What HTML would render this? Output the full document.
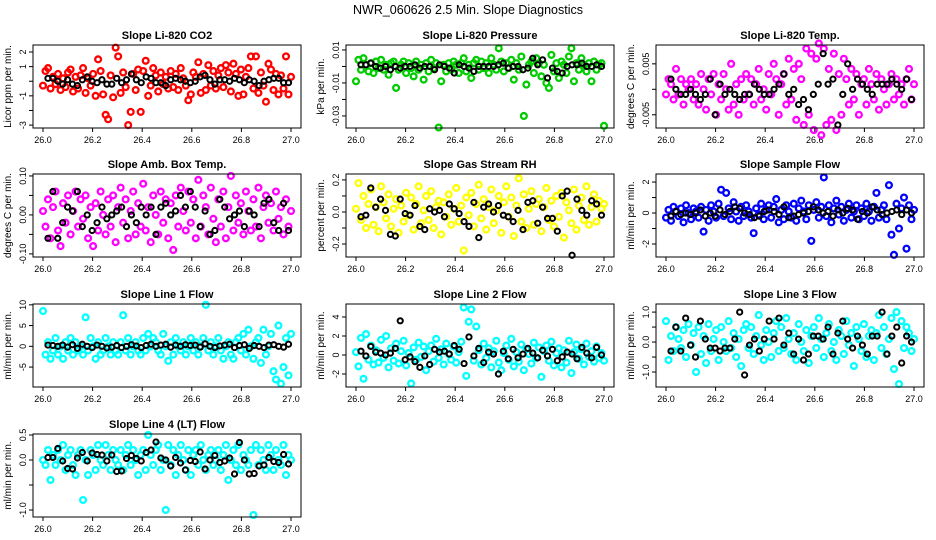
<!DOCTYPE html>
<html><head><meta charset="utf-8"><style>
html,body{margin:0;padding:0;background:#fff;}
svg{display:block;font-family:"Liberation Sans",Arial,sans-serif;}
</style></head><body>
<svg id="chart" width="936" height="540" viewBox="0 0 936 540" xmlns="http://www.w3.org/2000/svg">
<rect width="936" height="540" fill="#fff"/>
<text x="468" y="14" text-anchor="middle" font-size="12.5">NWR_060626  2.5 Min. Slope Diagnostics</text>
</svg>
<script>
const xTicks=[26.0,26.2,26.4,26.6,26.8,27.0];
const titles=["Slope Li-820 CO2","Slope Li-820 Pressure","Slope Li-820 Temp.","Slope Amb. Box Temp.","Slope Gas Stream RH","Slope Sample Flow","Slope Line 1 Flow","Slope Line 2 Flow","Slope Line 3 Flow","Slope Line 4 (LT) Flow"];
const yTitles=["Licor ppm per min.","kPa per min.","degrees C per min.","degrees C per min.","percent per min.","ml/min per min.","ml/min per min.","ml/min per min.","ml/min per min.","ml/min per min."];
const colors=["#ff0000","#00cc00","#ff00ff","#ff00ff","#ffff00","#0000ff","#00ffff","#00ffff","#00ffff","#00ffff"];
const yLims=[[2.48,-3.2],[0.013,-0.0373],[0.0087,-0.0076],[0.105,-0.108],[0.237,-0.281],[2.52,-2.84],[10.2,-9.8],[5.37,-3.37],[1.27,-1.5],[0.52,-1.14]];
const yTickVals=[[2,1,0,-1,-2,-3],[0.01,0,-0.01,-0.02,-0.03],[0.005,0,-0.005],[0.1,0.05,0,-0.05,-0.1],[0.2,0.1,0,-0.1,-0.2],[2,1,0,-1,-2],[10,5,0,-5],[4,2,0,-2],[1,0.5,0,-0.5,-1],[0.5,0,-0.5,-1]];
const yTickLabels=[["2","1","","-1","","-3"],["0.01","","-0.01","","-0.03"],["0.005","","-0.005"],["0.10","","0.00","","-0.10"],["0.2","","0.0","","-0.2"],["2","","0","","-2"],["10","5","0","-5"],["4","2","0","-2"],["1.0","","0.0","","-1.0"],["0.5","0.0","","-1.0"]];
const colored=[
[-0.3,0.7,0.9,-0.5,0.3,-0.2,0.5,-0.6,0.2,-0.4,0.6,0.8,-0.7,0.3,-0.5,0.4,0.9,-0.8,0.2,-0.3,0.5,-1.0,1.5,0.7,-0.9,-2.3,-2.6,0.4,-1.1,2.3,1.7,-0.8,0.6,-0.4,-3.0,-2.1,0.5,-0.6,0.8,-2.1,0.7,1.4,-1.0,-0.3,0.9,0.4,-0.7,0.6,-0.2,0.3,-0.5,0.7,-0.4,0.5,-0.6,0.9,0.2,-0.3,-1.3,-0.9,0.6,0.3,1.3,-0.8,0.5,-0.6,1.1,-0.3,0.7,-0.5,0.4,0.9,-0.4,1.1,0.6,-0.7,1.2,0.5,-1.0,0.8,-0.9,0.3,0.9,1.7,-0.5,1.7,-0.8,0.6,-0.3,-1.4,1.2,0.8,-0.6,0.5,-0.9,0.4,-0.5,1.7,-0.9,0.3],
[-0.009,0.004,-0.002,0.005,0.001,-0.003,0.002,-0.004,0.003,-0.001,0.004,-0.002,0.001,-0.005,0.002,0.003,-0.013,-0.002,0.001,0.003,-0.004,0.002,-0.001,-0.006,0.003,-0.002,0.001,-0.008,0.002,-0.003,0.004,-0.001,0.002,-0.037,-0.009,0.001,-0.003,0.002,-0.002,0.003,0.001,-0.004,0.002,0.005,-0.003,0.001,-0.007,0.002,0.004,-0.002,0.003,-0.001,0.002,-0.004,0.005,0.001,-0.002,0.011,0.003,-0.003,0.002,-0.001,0.004,-0.008,0.002,-0.002,0.006,-0.030,-0.011,0.001,0.003,-0.004,0.005,0.002,-0.006,0.001,-0.010,-0.013,0.007,-0.003,0.002,-0.007,0.003,0.001,-0.004,0.006,0.011,-0.009,0.002,-0.002,0.005,0.001,-0.003,0.002,-0.009,0.003,-0.002,0.001,0.002,-0.036],
[-0.001,0.002,0.001,-0.002,0.004,-0.001,0.002,-0.003,0.001,0.000,0.002,-0.002,0.001,-0.003,0.003,0.000,-0.004,0.002,-0.001,0.003,-0.005,0.001,-0.002,0.003,0.000,-0.004,0.005,-0.003,0.001,-0.005,0.002,-0.002,0.003,-0.001,0.002,-0.003,0.001,0.004,-0.002,0.000,-0.004,0.003,-0.001,0.005,0.002,-0.005,0.001,0.003,-0.003,0.006,-0.002,0.004,-0.006,0.005,0.002,-0.007,0.008,-0.005,0.007,-0.008,0.006,0.009,-0.009,0.008,-0.007,0.004,-0.006,0.007,-0.008,0.003,-0.005,0.006,0.002,-0.003,0.004,-0.002,0.003,-0.005,0.001,0.002,-0.003,0.004,0.001,-0.002,0.003,-0.004,0.002,0.000,-0.003,0.001,0.003,-0.002,0.002,-0.001,0.001,-0.003,0.002,0.004,-0.002,0.001],
[0.01,-0.03,0.04,-0.06,0.02,0.06,-0.04,-0.08,0.03,-0.02,0.05,-0.05,0.01,0.06,-0.03,0.04,-0.01,0.05,-0.06,0.02,-0.08,0.03,-0.04,0.06,0.00,-0.05,0.04,-0.03,0.05,-0.07,0.02,0.07,-0.02,0.04,-0.06,0.01,0.06,-0.05,0.03,-0.03,0.08,-0.04,0.02,-0.07,0.05,0.00,-0.05,0.06,-0.02,0.04,-0.06,0.03,-0.09,0.05,-0.03,0.07,0.01,-0.04,0.06,-0.02,0.04,-0.06,0.09,-0.03,0.05,0.02,-0.05,0.07,-0.01,-0.07,0.04,-0.03,0.06,-0.06,0.02,0.10,-0.04,0.05,-0.02,0.03,-0.05,0.06,0.01,-0.04,0.04,-0.03,0.07,-0.06,0.02,0.05,-0.02,0.03,-0.04,0.06,-0.01,0.02,-0.05,0.04,-0.03,0.01],
[0.02,0.18,-0.05,0.10,-0.10,0.05,0.14,-0.08,0.03,-0.12,0.16,0.06,-0.04,0.11,-0.09,0.02,0.08,-0.13,0.04,-0.06,0.12,-0.02,0.09,-0.11,0.05,0.16,-0.07,0.01,0.10,-0.05,0.13,-0.10,0.03,0.07,-0.14,0.06,-0.03,0.11,-0.08,0.02,0.15,-0.06,0.04,-0.24,0.09,-0.02,0.12,-0.09,0.05,0.17,-0.04,0.08,-0.11,0.03,0.14,-0.07,0.01,0.10,-0.13,0.06,0.16,-0.03,0.09,-0.15,0.04,0.21,-0.06,0.11,-0.10,0.02,0.13,-0.08,0.05,0.08,-0.12,0.03,0.15,-0.05,0.07,-0.09,0.10,-0.03,0.12,-0.16,0.06,0.01,-0.07,0.14,-0.11,0.04,0.09,-0.05,0.16,-0.08,0.03,0.11,-0.06,0.07,0.02,0.05],
[-0.3,0.2,-0.5,0.4,0.1,-0.2,0.3,-0.6,0.5,0.0,-0.4,0.3,0.1,-0.3,0.4,-1.2,0.2,-0.5,0.5,0.1,-0.3,0.6,1.5,-0.2,1.3,0.3,-0.4,0.7,0.1,-0.5,0.4,-0.2,0.5,0.1,-0.3,-1.3,0.3,-0.1,0.6,-0.4,0.2,0.5,-0.3,0.4,0.9,-0.6,0.2,-0.4,0.5,0.1,-0.3,0.6,-0.5,0.3,0.8,0.1,-0.4,0.5,-1.8,0.2,0.7,-0.3,0.4,2.3,-0.2,0.5,-0.6,0.3,0.8,-0.1,0.4,-0.5,0.2,0.6,-0.3,0.1,0.5,-0.4,0.3,-0.2,0.6,0.1,-0.5,0.4,1.3,-0.3,0.2,0.5,-0.4,1.8,-1.4,-2.7,0.6,-1.0,0.3,1.0,-2.3,0.5,-0.4,0.2],
[8.5,-2,1,-3,-1,2,-2,0,-3,1,-1,2,-2,1,-1,0,-2,7,-1,2,0,-3,1,-2,-1,2,0,-2,1,-1,-2,1,7.5,-1,2,-2,0,1,-1,-2,2,-1,3,0,2,1,-1,-2,3,0,-3.5,1,-2,2,0,-1,1,-2,0,2,-1,1,-2,0,2,10,-1,1,-2,0,2,-1,-3,0,1,-2,-3,1,2,-1,3,-2,4,0,-3,1,2,-4,4,-2,0,3,-6,-8,5,-9,-5,2,-7,3],
[0.3,-1.2,1.8,-2.5,2.2,-0.5,1.0,-1.0,0.5,-0.8,1.6,-0.3,2.0,-1.3,0.7,-0.6,1.2,-0.9,0.4,1.5,-1.1,0.2,-3.0,0.8,-0.5,1.3,-0.2,0.9,-1.6,0.4,1.0,-0.7,1.7,-0.3,0.6,-1.0,1.2,0.1,-0.5,0.9,-0.8,0.3,1.4,5.0,-2.2,3.5,4.8,-0.6,3.0,0.5,-1.0,1.2,-0.3,0.7,-1.3,0.4,1.5,-0.8,-1.6,0.2,1.0,-0.5,1.7,-1.2,0.3,-0.7,1.1,-1.6,0.6,0.1,-0.9,1.3,-0.3,0.8,-2.3,0.4,1.0,-0.6,1.4,-1.1,0.2,0.7,-1.3,0.5,-0.8,1.5,-1.9,0.3,1.1,-0.4,0.6,-1.0,1.2,-0.2,0.4,-0.7,0.9,-0.3,0.2,-0.6],
[0.7,-0.6,0.2,-0.3,0.5,0.1,-0.2,0.4,-0.5,0.6,-0.1,0.3,-1.0,0.5,-0.4,0.2,-0.7,0.6,-0.3,0.1,0.4,-0.6,0.5,0.0,-0.3,0.7,-0.2,0.3,-0.5,0.1,-0.8,0.4,0.6,-0.2,0.5,-0.4,0.2,0.9,-0.1,-0.6,0.4,0.0,-0.5,0.3,0.7,-0.3,0.5,-0.2,0.8,0.1,-0.4,0.3,-0.6,0.6,0.0,-0.3,0.4,-0.7,0.2,0.5,-0.2,0.8,0.1,-0.5,0.3,0.6,-0.3,0.0,-0.6,0.4,0.2,-0.4,0.7,-0.1,0.3,-0.8,0.5,0.1,-0.3,0.6,-0.5,0.2,0.4,-0.6,0.3,0.9,-0.2,0.5,-0.4,0.1,0.8,-0.9,1.0,-1.4,0.7,-0.2,0.5,0.3,-0.3,0.1],
[0.0,-0.1,0.2,-0.4,0.1,-0.1,0.2,0.0,0.3,-0.2,0.1,0.2,-0.1,-0.3,0.1,0.2,-0.8,0.0,-0.3,0.2,0.1,-0.2,0.3,0.0,-0.1,0.3,0.1,-0.2,0.2,0.0,-0.1,0.2,-0.2,0.1,0.3,-0.1,0.2,0.0,-0.3,0.1,0.2,-0.2,0.5,0.1,-0.1,0.2,0.3,-0.2,0.0,-1.0,0.3,-0.1,0.2,-0.3,0.1,0.3,0.0,-0.2,0.2,-0.3,0.1,0.2,-0.1,0.3,0.0,-0.2,0.1,0.2,-0.1,0.0,0.2,-0.2,0.1,0.3,-0.4,0.0,0.2,-0.1,0.3,-0.2,0.1,0.0,-0.1,0.2,-1.1,0.3,-0.1,0.2,0.0,-0.2,0.3,0.1,-0.2,0.2,0.0,-0.1,0.3,-0.3,0.1,0.0]
];
const black=[
[0.2,0.2,0.0,-0.2,0.1,-0.2,-0.3,0.1,0.3,0.0,-0.1,0.1,-0.2,-0.2,0.2,-0.1,0.1,0.5,0.1,-0.1,0.3,0.2,-0.1,-0.1,-0.3,0.1,0.2,0.1,0.0,-0.1,0.0,0.3,0.4,0.1,-0.2,0.1,0.1,0.0,0.2,0.1,-0.1,0.1,0.0,-0.3,0.0,0.1,0.2,0.2,-0.1,-0.1],
[0.001,0.001,0.002,0.000,-0.001,0.000,-0.002,0.000,-0.001,0.000,0.000,0.001,-0.001,0.000,0.000,-0.002,0.001,0.000,-0.001,-0.004,0.001,0.000,-0.001,-0.003,0.000,0.000,0.000,0.000,0.001,0.002,-0.001,0.000,0.000,-0.002,-0.001,0.005,0.001,0.004,-0.007,-0.001,-0.003,-0.004,0.000,0.001,0.001,0.002,0.000,0.000,0.001,0.000],
[0.002,0.000,-0.001,-0.001,0.000,-0.001,-0.002,-0.001,0.002,-0.005,0.001,-0.001,0.000,-0.001,-0.002,-0.001,-0.001,0.001,0.000,-0.001,-0.001,0.000,0.001,0.003,-0.001,0.000,-0.003,-0.002,-0.004,-0.001,0.001,0.007,0.001,0.002,-0.007,-0.001,0.005,0.000,0.002,0.001,0.000,-0.001,0.001,0.001,0.001,0.002,0.001,0.000,0.002,-0.002],
[-0.06,0.06,-0.06,-0.02,0.02,0.01,0.06,-0.03,0.00,-0.04,-0.02,0.02,-0.01,0.00,0.01,0.02,-0.03,0.00,-0.02,0.02,0.00,0.02,-0.05,0.02,0.03,0.00,0.01,0.05,0.02,0.06,0.02,-0.03,0.01,-0.05,-0.04,0.04,0.02,-0.01,0.00,0.01,-0.03,0.01,0.00,-0.03,0.03,0.04,-0.02,-0.04,0.03,-0.04],
[-0.03,-0.02,0.15,0.03,0.08,0.01,-0.14,-0.15,0.08,-0.01,-0.02,0.04,-0.09,-0.11,0.02,0.00,0.01,-0.03,0.05,0.02,-0.01,-0.06,-0.09,0.06,-0.16,0.03,0.05,0.00,0.04,-0.02,-0.03,-0.06,0.01,-0.11,0.06,0.07,-0.07,0.03,-0.04,-0.04,-0.12,0.10,0.13,-0.27,0.08,0.01,-0.02,0.07,0.05,-0.02],
[-0.2,0.1,-0.1,0.0,-0.1,0.0,0.2,-0.2,0.0,-0.2,0.2,-0.1,0.1,0.4,0.3,0.0,-0.1,-0.3,-0.2,0.1,0.2,0.1,-0.1,0.4,-0.3,-0.2,-0.1,0.0,0.1,0.4,0.2,0.0,0.1,-0.2,0.2,0.0,0.3,0.2,-0.4,0.1,0.0,0.4,0.2,-0.1,0.0,0.1,0.2,-0.1,0.2,0.0],
[0.3,0.2,0,0.3,-0.2,0.4,-0.5,0.5,0,-0.3,0.3,0,-0.4,-0.2,0.2,-0.3,0,0.4,0.1,-0.3,0.2,0.5,0,0.3,0.5,-0.2,0.3,0,0.4,0.2,0.3,-0.2,0.6,0,-0.3,0.1,0.3,0.5,-0.3,0.2,0.4,-0.5,0.2,0,-0.3,0.3,0.4,0,-0.2,0.5],
[0.4,-0.1,0.9,0.3,0.2,0.0,0.2,0.7,3.6,-0.5,-0.2,-0.7,-1.3,-0.1,-1.0,0.6,0.3,0.4,0.1,1.0,0.6,-0.9,1.9,-0.1,0.7,-0.8,0.3,0.1,-2.0,0.4,-0.4,0.6,-0.3,0.1,0.7,0.2,-0.3,0.5,-0.1,0.6,-0.6,-0.2,0.3,0.1,-0.4,0.8,0.2,-0.3,0.8,0.0],
[-0.3,0.5,-0.3,0.8,-0.1,-0.5,0.7,0.1,-0.2,-0.2,-0.3,-0.2,-0.2,0.1,1.0,-1.1,-0.1,0.1,-0.3,0.1,0.7,0.1,0.8,-0.1,0.3,-0.4,0.1,-0.6,-0.4,0.2,0.2,0.1,0.5,-0.4,0.3,0.7,0.1,-0.2,0.2,-0.1,-0.4,0.2,0.2,1.0,-0.4,0.2,0.5,-0.7,0.2,0.0],
[0.05,0.05,0.23,-0.02,-0.17,-0.18,0.04,0.15,-0.02,0.14,0.11,0.10,-0.02,0.10,-0.23,-0.22,0.03,0.09,0.03,-0.02,0.15,0.20,0.36,0.04,0.00,-0.12,0.05,-0.06,-0.20,-0.01,-0.03,0.16,-0.18,0.00,0.09,-0.05,-0.02,0.04,-0.28,0.35,0.00,-0.28,-0.27,-0.12,-0.10,0.05,-0.03,-0.05,0.11,-0.08]
];
const NS="http://www.w3.org/2000/svg";
const svg=document.getElementById('chart');
function mk(tag,attrs,parent){const e=document.createElementNS(NS,tag);for(const k in attrs)e.setAttribute(k,attrs[k]);(parent||svg).appendChild(e);return e;}
const colLeft=[33,346,656],rowTop=[45,174,304,434],W=268,H=83;
for(let p=0;p<10;p++){
  const L=colLeft[p%3],T=rowTop[Math.floor(p/3)];
  const g=mk('g',{});
  
  
  const xs=v=>L+10+(v-26)*(W-20);
  const ys=v=>T+(yLims[p][0]-v)/(yLims[p][0]-yLims[p][1])*H;
  const t=mk('text',{x:L+W/2,y:T-6,'text-anchor':'middle','font-size':'11','font-weight':'bold'},g);t.textContent=titles[p];
  
  
  const yt=mk('text',{transform:`translate(${L-22},${T+H/2}) rotate(-90)`,'text-anchor':'middle','font-size':'10'},g);yt.textContent=yTitles[p];
  
  
  xTicks.forEach(v=>{mk('line',{x1:xs(v),x2:xs(v),y1:T+H,y2:T+H+4,stroke:'#000'},g);const tx=mk('text',{x:xs(v),y:T+H+15,'text-anchor':'middle','font-size':'9'},g);tx.textContent=v.toFixed(1);
    
    });
  yTickVals[p].forEach((v,i)=>{mk('line',{x1:L-4,x2:L,y1:ys(v),y2:ys(v),stroke:'#000'},g);
    if(yTickLabels[p][i]){const ty=mk('text',{transform:`translate(${L-7},${ys(v)}) rotate(-90)`,'text-anchor':'middle','font-size':'9'},g);ty.textContent=yTickLabels[p][i];
    
    }});
  const cg=mk('g',{fill:'none',stroke:colors[p],'stroke-width':'2.3'},g);
  
  
  const n=colored[p].length;
  colored[p].forEach((v,i)=>{const c=mk('circle',{cx:xs(26+i/(n-1)),cy:ys(v),r:2.9},cg);
    
    });
  const bg=mk('g',{fill:'none',stroke:'#000','stroke-width':'2'},g);
  
  
  const m=black[p].length;
  black[p].forEach((v,i)=>{const c=mk('circle',{cx:xs(26.02+0.97*i/(m-1)),cy:ys(v),r:2.6},bg);
    
    });
  const box=mk('rect',{x:L,y:T,width:W,height:H,fill:'none',stroke:'#000'},g);
  
  
}
</script>
</body></html>
